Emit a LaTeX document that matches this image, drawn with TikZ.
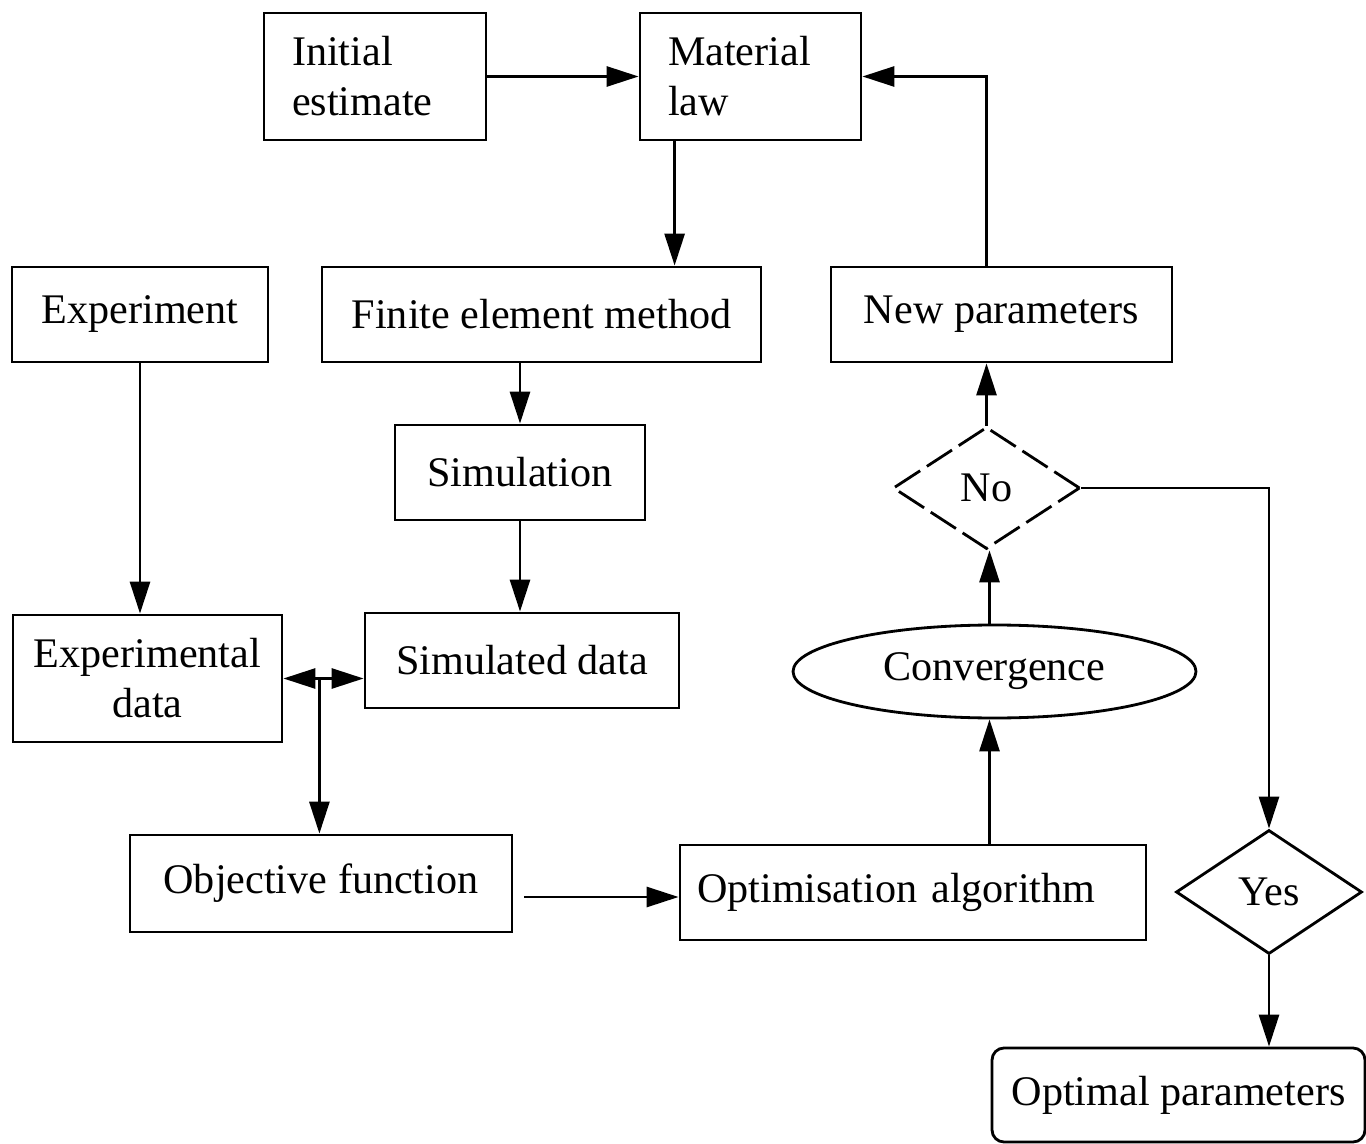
\documentclass[tikz,border=0pt]{standalone}
\usepackage{fontspec}
\setmainfont{Liberation Serif}
\usetikzlibrary{shapes.geometric, arrows.meta}
\tikzset{>={Triangle[length=3.2mm,width=2mm]},
every node/.style={font=\fontsize{12}{14.2}\selectfont},
box/.style={draw, line width=0.8pt, inner sep=0pt, align=center},
lbox/.style={box, align=left, text width=#1},
decide/.style={draw, diamond, line width=0.8pt, inner sep=0pt},
flow/.style={->, line width=0.8pt}}

\begin{document}
\begin{tikzpicture}
\useasboundingbox (0,0) rectangle (13.66,-11.44);
\node[lbox=1.66cm,minimum width=2.22cm,minimum height=1.27cm] (init) at (3.75,-0.765) {Initial\\estimate};
\node[lbox=1.65cm,minimum width=2.21cm,minimum height=1.27cm] (mat) at (7.505,-0.765) {Material\\law};
\node[box,minimum width=2.56cm,minimum height=0.95cm] (exper) at (1.40,-3.145) {Experiment};
\node[box,minimum width=4.39cm,minimum height=0.95cm] (fem) at (5.415,-3.145) {Finite element method};
\node[box,minimum width=3.41cm,minimum height=0.95cm] (newpar) at (10.015,-3.145) {New parameters};
\node[box,minimum width=2.50cm,minimum height=0.95cm] (sim) at (5.20,-4.725) {Simulation};
\node[box,minimum width=3.14cm,minimum height=0.95cm] (simdata) at (5.22,-6.605) {Simulated data};
\node[box,minimum width=2.69cm,minimum height=1.27cm] (expdata) at (1.475,-6.785) {Experimental\\data};
\node[box,minimum width=3.82cm,minimum height=0.97cm] (obj) at (3.21,-8.835) {Objective function};
\node[lbox=4.32cm,minimum width=4.66cm,minimum height=0.95cm] (opt) at (9.13,-8.925) {Optimisation algorithm};
\node[draw,ellipse,line width=0.8pt,inner sep=0pt,minimum width=4.03cm,minimum height=0.93cm] (conv) at (9.945,-6.715) {Convergence};
\node[decide,dash pattern=on 0.3cm off 0.08cm,minimum width=1.87cm,minimum height=1.22cm] (no) at (9.865,-4.88) {No};
\node[decide,minimum width=1.86cm,minimum height=1.24cm] (yes) at (12.69,-8.92) {Yes};
\node[box,rounded corners=0.12cm,minimum width=3.73cm,minimum height=0.94cm] (optpar) at (11.785,-10.95) {Optimal parameters};

% main loop
\coordinate (matdown) at ([xshift=0.36cm]mat.south west);
\coordinate (split) at ([xshift=0.36cm]expdata.east);
\coordinate (objout) at ([xshift=0.11cm,yshift=-0.135cm]obj.east);
\coordinate (convup) at ([xshift=-0.05cm]conv.south);
\draw[flow] (init) -- (mat);
\draw[flow] (matdown) -- (matdown |- fem.north);
\draw[flow] (sim.north |- fem.south) -- (sim.north);
\draw[flow] (sim.south) -- (sim.south |- simdata.north);
\draw[flow] (exper.south) -- (exper.south |- expdata.north);
\draw[flow,<->] (expdata.east) -- (expdata.east -| simdata.west);
\draw[flow] (split) -- (split |- obj.north);
\draw[flow] (objout) -- (objout -| opt.west);
\draw[flow] (convup |- opt.north) -- (convup);
\draw[flow] (convup |- conv.north) -- (convup |- no.south);
\draw[flow] (no.north) -- (no.north |- newpar.south);
\draw[flow] (no.north |- newpar.north) |- (mat.east);
\draw[flow] (no.east) -| (yes.north);
\draw[flow] (yes.south) -- (yes.south |- optpar.north);
\end{tikzpicture}
\end{document}
